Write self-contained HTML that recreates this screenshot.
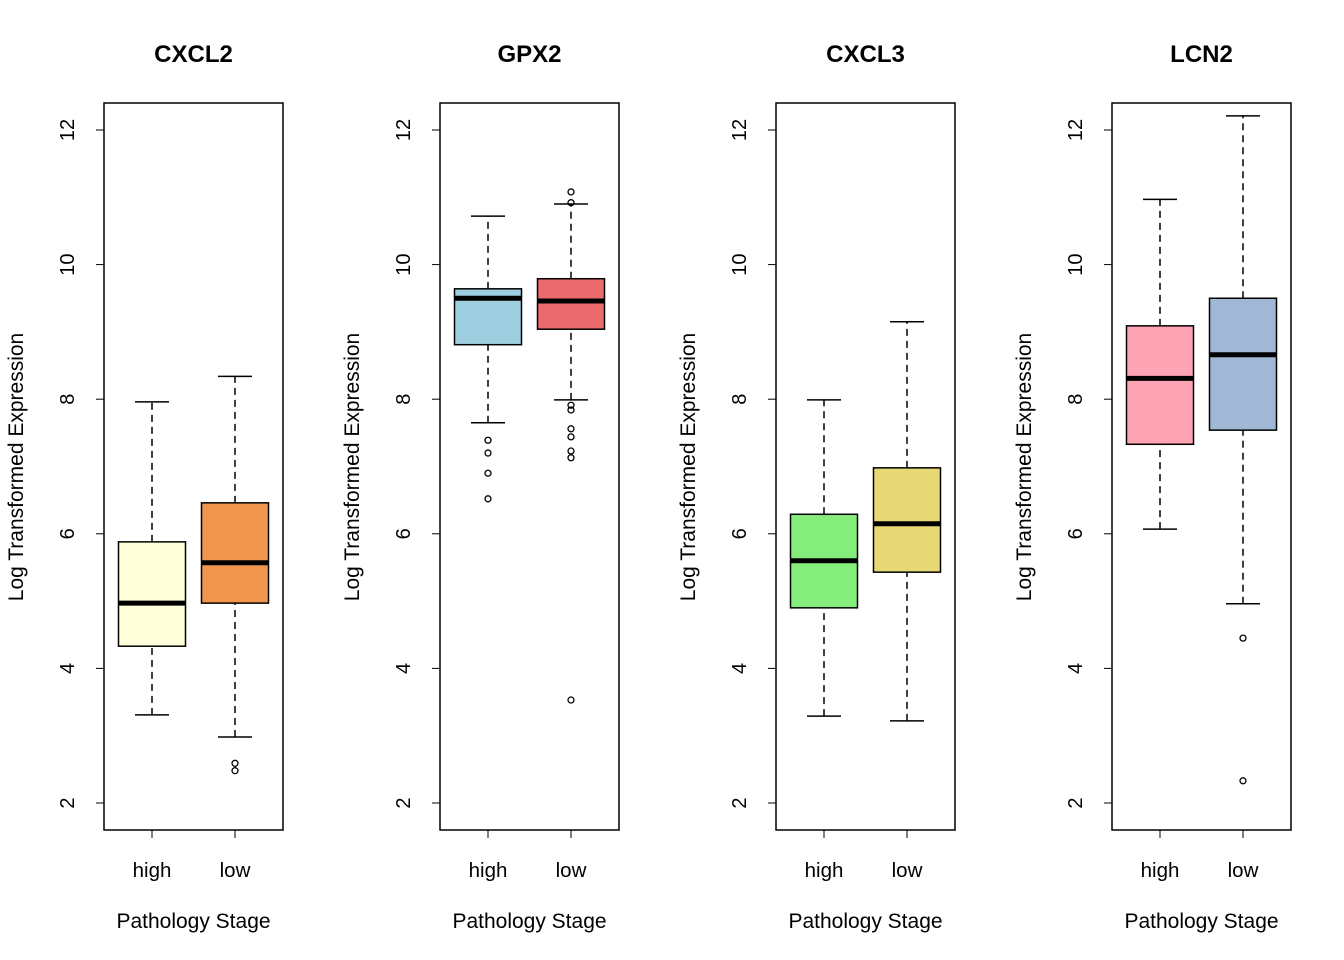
<!DOCTYPE html>
<html><head><meta charset="utf-8"><style>body{margin:0;background:#fff}svg{display:block}text{font-family:"Liberation Sans",Arial,sans-serif}</style></head>
<body>
<svg id="c" width="1344" height="960" xmlns="http://www.w3.org/2000/svg"></svg>
<script>
const genes = ["CXCL2","GPX2","CXCL3","LCN2"];
const groups = ["high","low"];
const yTicks = [2,4,6,8,10,12];
// [lowWhisker, Q1, median, Q3, highWhisker]
const stats = [
  [[3.31,4.33,4.97,5.88,7.96],[2.98,4.97,5.57,6.46,8.34]],
  [[7.65,8.81,9.50,9.64,10.72],[7.99,9.04,9.46,9.79,10.90]],
  [[3.29,4.90,5.60,6.29,7.99],[3.22,5.43,6.15,6.98,9.15]],
  [[6.07,7.33,8.31,9.09,10.97],[4.96,7.54,8.66,9.50,12.21]]
];
const outliers = [
  [[],[2.59,2.48]],
  [[7.39,7.20,6.90,6.52],[11.08,10.92,7.91,7.84,7.56,7.44,7.23,7.13,3.53]],
  [[],[]],
  [[],[4.45,2.33]]
];
const colors = [["#FFFFD9","#F0964F"],["#9ECFE0","#EB6A6E"],["#84ED7C","#E8D875"],["#FCA4B4","#A0B8D6"]];

const svg = document.getElementById('c');
const NS = "http://www.w3.org/2000/svg";
function mk(tag, attrs, parent, name){
  const e = document.createElementNS(NS, tag);
  for (const k in attrs) e.setAttribute(k, attrs[k]);
  
  
  (parent||svg).appendChild(e);
  return e;
}
function y(v){ return 130 + (12 - v) * 67.3; }
genes.forEach((g, p) => {
  const off = p * 336;
  const grp = mk('g', {}, svg, 'panel-' + g.toLowerCase());
  const L = 104 + off, R = 283 + off, T = 103, B = 830;
  const t = mk('text', {x:(L+R)/2, y:62, 'text-anchor':'middle', 'font-size':24, 'font-weight':'bold'}, grp, 'panel-title');
  t.textContent = g;
  mk('rect', {x:L, y:T, width:R-L, height:B-T, fill:'none', stroke:'#000', 'stroke-width':1.5}, grp, 'plot-frame');
  mk('line', {x1:L, x2:L, y1:y(yTicks[0]), y2:y(yTicks[yTicks.length-1]), stroke:'#000'}, grp, 'y-axis');
  yTicks.forEach(v => {
    mk('line', {x1:L, x2:L-8, y1:y(v), y2:y(v), stroke:'#000'}, grp, 'y-tick');
    const tl = mk('text', {x:0, y:0, transform:`translate(${L-30},${y(v)}) rotate(-90)`, 'text-anchor':'middle', 'font-size':20}, grp, 'y-tick-label');
    tl.textContent = v;
  });
  const yl = mk('text', {transform:`translate(${23+off},467) rotate(-90)`, 'text-anchor':'middle', 'font-size':21}, grp, 'y-axis-title');
  yl.textContent = 'Log Transformed Expression';
  const xl = mk('text', {x:(L+R)/2, y:928, 'text-anchor':'middle', 'font-size':21}, grp, 'x-axis-title');
  xl.textContent = 'Pathology Stage';
  groups.forEach((gr, i) => {
    const cx = 152 + off + i * 83;
    const s = stats[p][i];
    const hw = 33.5;
    mk('line', {x1:cx, x2:cx, y1:B, y2:B+8, stroke:'#000'}, grp, 'x-tick');
    const lab = mk('text', {x:cx, y:877, 'text-anchor':'middle', 'font-size':20.5}, grp, 'x-tick-label');
    lab.textContent = gr;
    mk('line', {x1:cx, x2:cx, y1:y(s[0]), y2:y(s[1]), stroke:'#000', 'stroke-dasharray':'7,5', 'stroke-width':1.5}, grp, 'lower-whisker');
    mk('line', {x1:cx, x2:cx, y1:y(s[3]), y2:y(s[4]), stroke:'#000', 'stroke-dasharray':'7,5', 'stroke-width':1.5}, grp, 'upper-whisker');
    mk('line', {x1:cx-17, x2:cx+17, y1:y(s[0]), y2:y(s[0]), stroke:'#000', 'stroke-width':1.5}, grp, 'lower-cap');
    mk('line', {x1:cx-17, x2:cx+17, y1:y(s[4]), y2:y(s[4]), stroke:'#000', 'stroke-width':1.5}, grp, 'upper-cap');
    mk('rect', {x:cx-hw, y:y(s[3]), width:2*hw, height:y(s[1])-y(s[3]), fill:colors[p][i], stroke:'#000', 'stroke-width':1.5}, grp, 'box-' + gr);
    mk('line', {x1:cx-hw, x2:cx+hw, y1:y(s[2]), y2:y(s[2]), stroke:'#000', 'stroke-width':5}, grp, 'median-' + gr);
    outliers[p][i].forEach(o => {
      mk('circle', {cx:cx, cy:y(o), r:3, fill:'none', stroke:'#000', 'stroke-width':1.3}, grp, 'outlier');
    });
  });
});
</script>
</body></html>
